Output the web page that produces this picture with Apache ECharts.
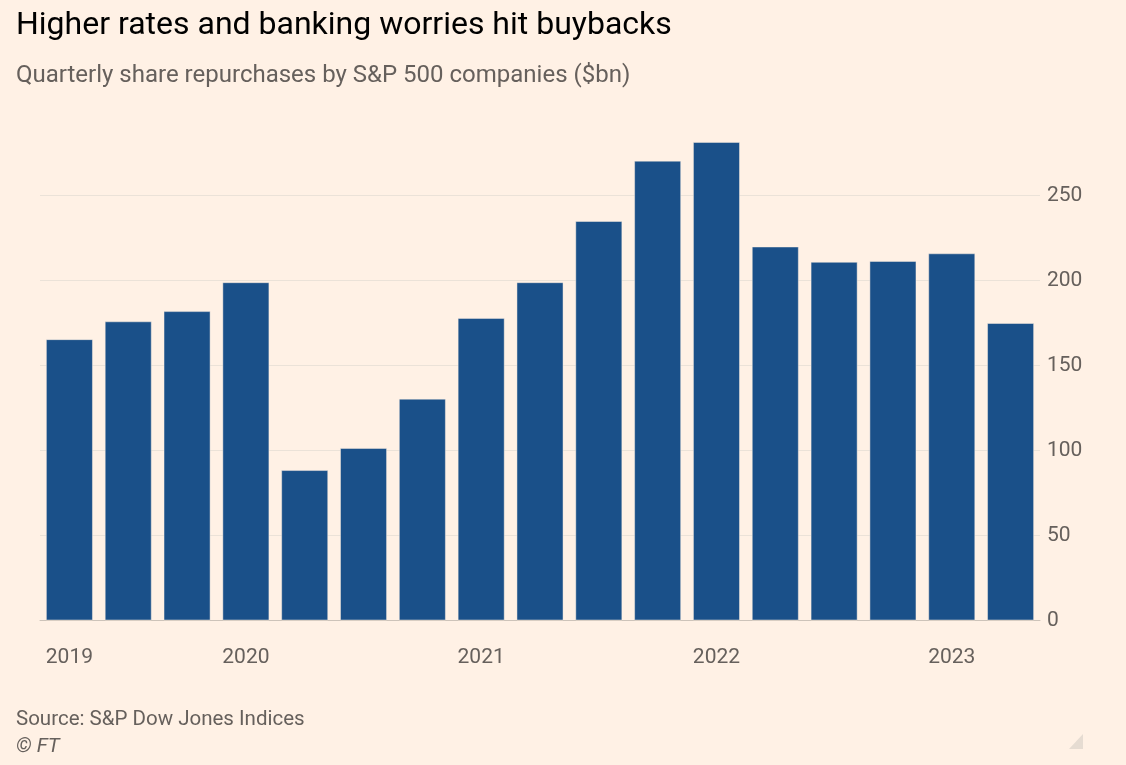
<!DOCTYPE html>
<html>
<head>
<meta charset="utf-8">
<script src="https://cdn.jsdelivr.net/npm/echarts@6/dist/echarts.min.js"></script>
<style>
  html, body { margin: 0; padding: 0; background: #fff1e5; }
  #main { width: 1126px; height: 765px; }
</style>
</head>
<body>
<div id="main"></div>
<script>
// quarterly buybacks, $bn
var quarters = ['Q2 2019', 'Q3 2019', 'Q4 2019', 'Q1 2020', 'Q2 2020', 'Q3 2020', 'Q4 2020',
                'Q1 2021', 'Q2 2021', 'Q3 2021', 'Q4 2021', 'Q1 2022', 'Q2 2022', 'Q3 2022',
                'Q4 2022', 'Q1 2023', 'Q2 2023'];
var buybacks = [165.5, 176, 182, 199, 88.5, 101.5, 130.5, 178, 199, 235, 270.5, 281.5,
                220, 211, 211.5, 216, 175];
// which bars carry a year label
var yearTickIndex = [0, 3, 7, 11, 15];
var yearTickLabels = ['2019', '2020', '2021', '2022', '2023'];

var FONT = 'Roboto, "Liberation Sans", sans-serif';
var GREY = '#66605c';

function isYearTick(i) {
    return yearTickIndex.indexOf(i) >= 0;
}

var myChart = echarts.init(document.getElementById('main'));
var option = {
    backgroundColor: '#fff1e5',
    animation: false,
    title: [
        {
            text: 'Higher rates and banking worries hit buybacks',
            left: 11, top: 5,
            textStyle: { fontFamily: FONT, fontSize: 32, fontWeight: 'normal', color: '#000' }
        },
        {
            text: 'Quarterly share repurchases by S&P 500 companies ($bn)',
            left: 11, top: 59,
            textStyle: { fontFamily: FONT, fontSize: 24, fontWeight: 'normal', color: GREY }
        },
        {
            text: 'Source: S&P Dow Jones Indices',
            left: 11, top: 704,
            textStyle: { fontFamily: FONT, fontSize: 20.5, fontWeight: 'normal', color: GREY }
        },
        {
            text: '© FT',
            left: 11, top: 732,
            textStyle: { fontFamily: FONT, fontSize: 20.5, fontWeight: 'normal', fontStyle: 'italic', color: GREY }
        }
    ],
    grid: {
        left: 40,
        right: 86,
        top: 110.5,
        bottom: 144.5,
        outerBoundsMode: 'none'
    },
    xAxis: [
        {
            type: 'category',
            data: quarters,
            position: 'bottom',
            axisLine: { lineStyle: { color: '#cdc3b9', width: 1 } },
            axisTick: { alignWithLabel: true, length: 11, lineStyle: { color: '#dcd3ca' } },
            axisLabel: {
                interval: function (i) { return isYearTick(i); },
                formatter: function (v, i) { return yearTickLabels[yearTickIndex.indexOf(i)]; },
                margin: 27,
                fontFamily: FONT,
                fontSize: 21,
                color: GREY
            }
        },
        {
            // longer ticks under the year labels
            type: 'category',
            data: quarters,
            position: 'bottom',
            axisLine: { show: false },
            axisTick: {
                alignWithLabel: true,
                length: 18,
                interval: function (i) { return isYearTick(i); },
                lineStyle: { color: '#dcd3ca' }
            },
            axisLabel: { show: false }
        }
    ],
    yAxis: {
        type: 'value',
        position: 'right',
        min: 0,
        max: 300,
        interval: 50,
        axisLine: { show: false },
        axisTick: { show: false },
        splitLine: { showMaxLine: false, lineStyle: { color: '#ebe2d8' } },
        axisLabel: {
            showMaxLabel: false,
            margin: 7,
            align: 'left',
            fontFamily: FONT,
            fontSize: 21,
            color: GREY
        }
    },
    series: [
        {
            name: 'Buybacks',
            type: 'bar',
            xAxisIndex: 0,
            data: buybacks,
            barCategoryGap: '20%',
            itemStyle: { color: '#1a5089', borderColor: 'rgba(255,241,229,0.45)', borderWidth: 1 }
        }
    ],
    graphic: [
        {
            type: 'polygon',
            shape: { points: [[1083, 734], [1083, 749], [1069, 749]] },
            style: { fill: '#e6dcd2' },
            silent: true
        }
    ]
};
myChart.setOption(option);
</script>
</body>
</html>
